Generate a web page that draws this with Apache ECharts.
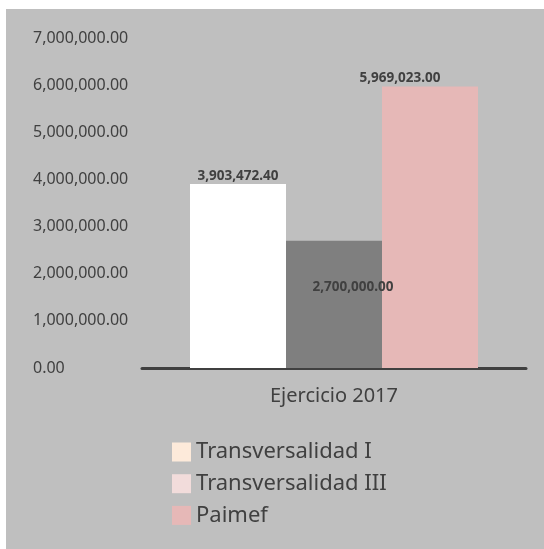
<!DOCTYPE html>
<html>
<head>
<meta charset="utf-8">
<script src="https://cdn.jsdelivr.net/npm/echarts@6/dist/echarts.min.js"></script>
<style>
html,body{margin:0;padding:0;background:#bfbfbf;overflow:hidden;}
#chart{position:absolute;left:6px;top:9px;width:538px;height:540px;background:#bfbfbf;}
#edgeTop{position:absolute;left:0;top:0;width:100%;height:9px;background:#ffffff;}
#edgeLeft{position:absolute;left:0;top:0;width:6px;height:100%;background:#ffffff;}
</style>
</head>
<body>
<div id="edgeTop"></div>
<div id="edgeLeft"></div>
<div id="chart"></div>
<script>
const categories = ['Ejercicio 2017'];
const seriesNames = ['Transversalidad I', 'Transversalidad III', 'Paimef'];
const transversalidadI = [3903472.40];
const transversalidadIII = [2700000.00];
const paimef = [5969023.00];
const yTicks = [0, 1000000, 2000000, 3000000, 4000000, 5000000, 6000000, 7000000];

const barColors = ['#ffffff', '#7f7f7f', '#e6b8b7'];
const legendColors = ['#fdeada', '#f2dcdb', '#e6b8b7'];
const textColor = '#404040';
const font = 'Noto Sans';

function fmt(v) {
  return Number(v).toLocaleString('en-US', {minimumFractionDigits: 2, maximumFractionDigits: 2});
}

const labelBase = {
  show: true,
  color: textColor,
  fontFamily: font,
  fontWeight: 'bold',
  fontSize: 13.5,
  formatter: p => fmt(p.value)
};

const chart = echarts.init(document.getElementById('chart'));
chart.setOption({
  backgroundColor: '#bfbfbf',
  animation: false,
  textStyle: {fontFamily: font},
  grid: {left: 136, right: 18, top: 29, bottom: 181, containLabel: false},
  legend: {
    orient: 'vertical',
    left: 161,
    top: 427,
    itemWidth: 19,
    itemHeight: 19,
    itemGap: 9.7,
    icon: 'rect',
    textStyle: {color: textColor, fontFamily: font, fontSize: 22},
    data: seriesNames.map((n, i) => ({name: n, itemStyle: {color: legendColors[i]}}))
  },
  xAxis: {
    type: 'category',
    data: categories,
    axisLine: {lineStyle: {color: textColor, width: 3}},
    axisTick: {show: false},
    axisLabel: {color: textColor, fontFamily: font, fontSize: 20, margin: 18}
  },
  yAxis: {
    type: 'value',
    min: yTicks[0],
    max: yTicks[yTicks.length - 1],
    interval: yTicks[1] - yTicks[0],
    axisLine: {show: false},
    axisTick: {show: false},
    splitLine: {show: false},
    axisLabel: {
      color: textColor, fontFamily: font, fontSize: 16,
      align: 'left', margin: 109,
      formatter: v => fmt(v)
    }
  },
  series: [
    {
      name: seriesNames[0], type: 'bar', data: transversalidadI,
      barWidth: 96, barGap: 0,
      itemStyle: {color: barColors[0]},
      label: Object.assign({}, labelBase, {position: 'top', distance: 1})
    },
    {
      name: seriesNames[1], type: 'bar', data: transversalidadIII,
      barWidth: 96, barGap: 0,
      itemStyle: {color: barColors[1]},
      label: Object.assign({}, labelBase, {position: 'inside', offset: [19, -17]})
    },
    {
      name: seriesNames[2], type: 'bar', data: paimef,
      barWidth: 96, barGap: 0,
      itemStyle: {color: barColors[2]},
      label: Object.assign({}, labelBase, {position: 'top', distance: 1, offset: [-30, 0]})
    }
  ]
});
</script>
</body>
</html>
